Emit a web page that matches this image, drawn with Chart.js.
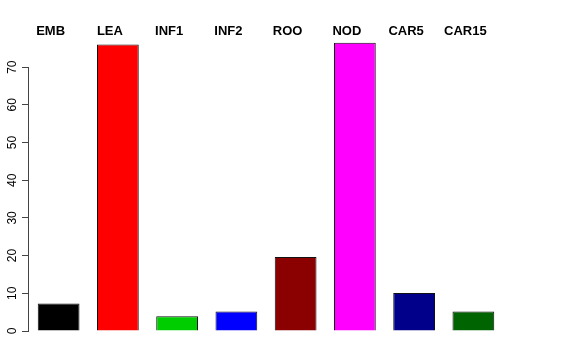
<!DOCTYPE html>
<html>
<head>
<meta charset="utf-8">
<script src="https://cdn.jsdelivr.net/npm/chart.js@4"></script>
<style>
  html, body { margin: 0; padding: 0; background: #fff; }
  #wrap { width: 576px; height: 360px; }
</style>
</head>
<body>
<div id="wrap"><canvas id="c" width="576" height="360"></canvas></div>
<script>
const categories = ['EMB', 'LEA', 'INF1', 'INF2', 'ROO', 'NOD', 'CAR5', 'CAR15'];
const values = [7.3, 76.0, 3.9, 5.15, 19.6, 76.5, 10.1, 5.2];
const barColors = ['#000000', '#FF0000', '#00CD00', '#0000FF', '#8B0000', '#FF00FF', '#00008B', '#006400'];
const yTicks = [0, 10, 20, 30, 40, 50, 60, 70];

// y axis line only spans the tick range, like R's axis()
const axisLine = {
  id: 'axisLine',
  afterDraw(chart) {
    const y = chart.scales.y;
    const ctx = chart.ctx;
    const x = Math.round(chart.chartArea.left) - 0.5;
    ctx.save();
    ctx.strokeStyle = '#444';
    ctx.lineWidth = 1;
    ctx.beginPath();
    ctx.moveTo(x, y.getPixelForValue(yTicks[0]));
    ctx.lineTo(x, y.getPixelForValue(yTicks[yTicks.length - 1]));
    ctx.stroke();
    ctx.restore();
  }
};

new Chart(document.getElementById('c'), {
  type: 'bar',
  data: {
    labels: categories,
    datasets: [{
      data: values,
      backgroundColor: barColors,
      borderColor: '#111',
      borderWidth: 1,
      barPercentage: 0.705,
      categoryPercentage: 1.0
    }]
  },
  options: {
    responsive: false,
    animation: false,
    layout: { padding: { top: 0, left: 0, right: 73, bottom: 29 } },
    plugins: { legend: { display: false }, tooltip: { enabled: false } },
    scales: {
      x: {
        position: 'top',
        grid: { display: false, drawTicks: false },
        border: { display: false },
        afterFit(s) { s.height = 40; },
        ticks: {
          color: '#000',
          padding: 1,
          labelOffset: -8,
          maxRotation: 0,
          autoSkip: false,
          font: { family: 'Liberation Sans', size: 13, weight: 'bold' }
        }
      },
      y: {
        min: 0,
        max: 77.2,
        afterFit(s) { s.width = 29; },
        afterBuildTicks(s) { s.ticks = yTicks.map(v => ({ value: v })); },
        grid: { drawOnChartArea: false, tickLength: 7, color: '#444' },
        border: { display: false },
        ticks: {
          color: '#000',
          minRotation: 90,
          maxRotation: 90,
          crossAlign: 'center',
          padding: 3,
          font: { family: 'Liberation Sans', size: 12 }
        }
      }
    }
  },
  plugins: [axisLine]
});
</script>
</body>
</html>
